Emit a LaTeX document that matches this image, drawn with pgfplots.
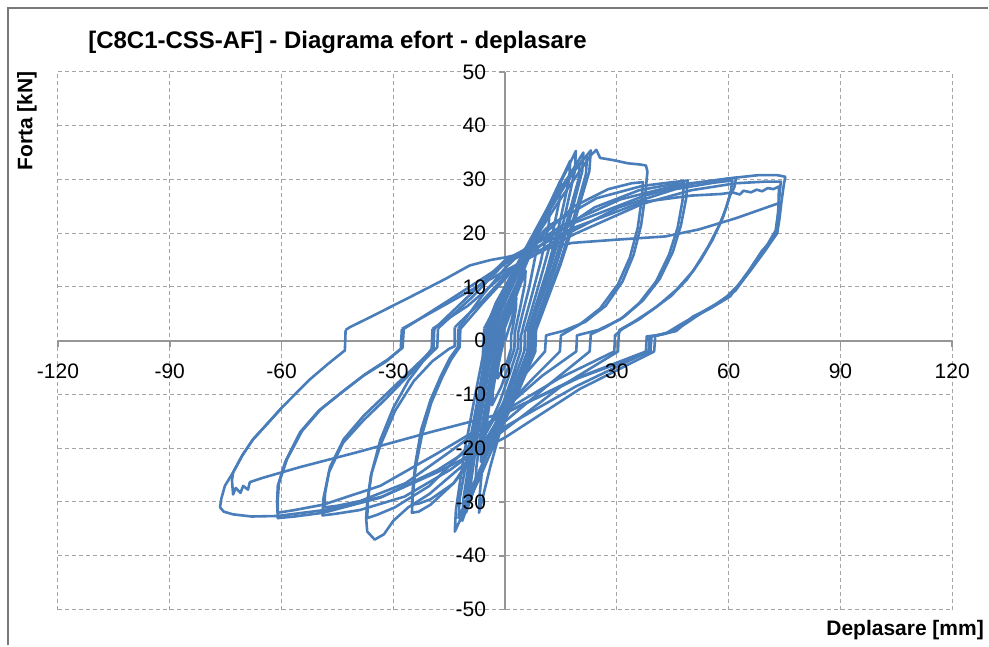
\documentclass[border=0pt]{standalone}
\usepackage{fontspec}
\setmainfont{Liberation Sans}
\usepackage{pgfplots}
\pgfplotsset{compat=1.18}
\definecolor{seriesblue}{RGB}{74,126,187}
\definecolor{gridgray}{RGB}{165,165,165}
\definecolor{axisgray}{RGB}{150,150,150}
\definecolor{framegray}{RGB}{120,120,120}
\pgfplotsset{
  hyst/.style={draw=seriesblue, line width=1.3pt, mark=none, solid, line join=round},
  % same as the standard layers, but tick labels come after the curves
  layers/labelsabove/.define layer set={axis background,axis grid,axis ticks,axis lines,pre main,main,axis tick labels,axis descriptions,axis foreground}{
    grid style={/pgfplots/on layer=axis grid},
    tick style={/pgfplots/on layer=axis ticks},
    axis line style={/pgfplots/on layer=axis lines},
    label style={/pgfplots/on layer=axis descriptions},
    legend style={/pgfplots/on layer=axis descriptions},
    title style={/pgfplots/on layer=axis descriptions},
    colorbar style={/pgfplots/on layer=axis descriptions},
    ticklabel style={/pgfplots/on layer=axis tick labels},
    axis background@ style={/pgfplots/on layer=axis background},
    3d box foreground style={/pgfplots/on layer=axis foreground},
  },
}

\begin{document}
\begin{tikzpicture}
\begin{axis}[
  set layers=labelsabove,
  at={(0pt,0pt)}, anchor=south west,
  scale only axis, width=447.5pt, height=269pt,
  xmin=-120, xmax=120, ymin=-50, ymax=50,
  xtick={-120,-90,...,120}, ytick={-50,-40,...,50},
  axis lines=middle,
  hide obscured x ticks=false, hide obscured y ticks=false,
  axis line style={-, draw=axisgray, line width=0.8pt},
  grid=major,
  major grid style={draw=gridgray, line width=0.5pt, dash pattern=on 2pt off 1.5pt},
  tick style={draw=axisgray, line width=0.8pt},
  tick align=outside, major tick length=3pt,
  ticklabel style={font=\fontsize{10.5}{12}\selectfont, text=black},
  xticklabel style={yshift=-5pt},
  yticklabel style={xshift=-3pt},
  /pgf/number format/assume math mode=true,
  clip=false,
]
% stiff cycles at small drift
\addplot[hyst] coordinates {(0,0) (1.8,4) (3,8) (2.9,6) (2.2,3) (1.6,1) (1.6,-1.5) (0.5,-4) (-2,-7) (-1.9,-5) (-1.2,-2.5) (-0.5,-0.5) (-0.3,2)
 (0.8,4) (2.5,7.5) (5.5,13) (5.3,10.5) (4,6) (2.6,1.5) (2.5,-1.5) (0.8,-5) (-1,-8.5) (-3.5,-12) (-3.3,-9.5) (-2.2,-5) (-1,-1.5) (-0.8,2)
 (0.7,5) (3,9.5) (5.5,14) (8.5,19) (8.2,16) (6.5,10) (4.5,4.5) (3.5,1.5) (3.4,-1.5) (1.3,-6) (-1.5,-11.5) (-5,-17) (-4.7,-14) (-3.3,-8) (-2,-3) (-1.5,-0.8) (-1.4,2.2)
 (0.5,5.5) (3,10) (6.5,16) (9.5,21) (12,25) (11.7,21.5) (9.5,14.5) (7,8) (5,3) (4.3,1) (4.2,-1.8) (1.8,-7) (-1,-12.5) (-4,-18) (-6.5,-22.5) (-6.2,-19) (-4.6,-11.5) (-3,-5) (-2.2,-1) (-2,2.2)
 (0,6) (3,10.5) (7,17.5) (11,24) (15,30) (14.7,26.5) (12.3,18.5) (9.5,11.5) (6.8,5) (5.3,1.5) (5.2,-1.8) (2.3,-7.5) (-1,-13) (-4.5,-20) (-8,-27) (-7.7,-23.5) (-6,-15) (-4,-6.5) (-2.8,-1.5) (-2.6,2.2)};
\addplot[hyst] coordinates {(-2.6,2.2) (-0.5,6.5) (2.5,11) (7,18) (12,25.5) (17.5,33.5) (17.2,30) (14.5,21.5) (11.2,13) (8.2,6.5) (6.2,2) (6,-2) (2.7,-8) (-1,-14) (-5,-21) (-9.5,-30) (-9.2,-26.5) (-7.3,-17.5) (-5,-8) (-3.6,-2) (-3.4,2.3)
 (-1.2,6.5) (2,11) (6.5,17.5) (12,25.5) (16,31) (19,35.3) (18.7,31.5) (15.8,22.5) (12.3,14) (9,7) (6.8,2) (6.6,-2) (3,-8.5) (-1,-14.5) (-5.5,-22) (-10.5,-32) (-10.2,-28.5) (-8.2,-19) (-5.7,-9) (-4.3,-2.5) (-4.1,2.3)
 (-1.8,6.5) (1.8,11.5) (7,18.5) (12.5,25.5) (17,30.5) (21,35) (20.7,31.5) (17.5,23) (13.7,14) (10,7) (7.5,2) (7.3,-2) (3.3,-9) (-1,-15) (-6,-23) (-11.5,-33.5) (-11.2,-29.5) (-9,-19.5) (-6.3,-9) (-4.8,-2.5) (-4.6,2.3)
 (-2.3,6.5) (1.8,12) (7.5,19) (13.5,26) (18.5,31.5) (23,35.4) (22.6,31.5) (19,23) (14.8,14) (11,7) (8.3,2) (8.1,-2) (3.8,-9) (-1,-15.5) (-6.5,-23.5) (-12.5,-33) (-12.2,-29.5) (-9.8,-20) (-7,-9.5) (-5.3,-2.5) (-5.1,2.3)};
\addplot[hyst] coordinates {(-5.1,2.3) (-2.5,7) (1.5,12) (6.5,18.5) (12,25.5) (16.5,30) (20,33) (19.7,30) (16.5,22) (12.8,13.5) (9,6.5) (6.8,2) (6.6,-2) (2.5,-9) (-1,-16) (-4,-23.5) (-7,-32) (-6.8,-28.5) (-5.5,-19) (-4,-9) (-3.2,-2.5) (-3,2.3)
 (-1,7) (2.5,12) (7.5,19) (13,26) (18,31.5) (22,34.5) (21.7,31) (18.5,23) (14.5,14) (10.5,7) (8,2) (7.8,-2) (3.5,-9.5) (-1.5,-17) (-6.5,-25) (-10.5,-31) (-13.5,-35.5) (-13.2,-31.5) (-11,-21) (-8,-10) (-6,-3) (-5.6,2.3)};
% first cycle past the peak force
\addplot[hyst] coordinates {(-5.6,2.3) (-2,7) (2.5,12.5) (8.5,19.5) (14.5,26) (20,31.5) (23,34.5) (24.5,35.5) (25.5,34) (29,33.6) (33,33) (36,32.8) (37.8,32.6) (38.2,31.5) (38,30)
 (37.6,27) (36.5,21.5) (34.5,16) (31.5,11) (27,6.5) (21.5,3.5) (15.5,1.8) (11,1) (10.7,-2)
 (5,-6.5) (0,-11) (-7.5,-20) (-13.8,-26.5) (-20,-30.5) (-23.2,-31.8) (-25,-32)
 (-24.8,-29) (-24,-23.5) (-22.3,-17.5) (-19.8,-11.5) (-17,-7) (-14.5,-3.5) (-12.2,-1.2) (-12,2.2)};
\addplot[hyst] coordinates {(-12,2.2) (-6,7) (0,11.5) (9.2,19) (18.5,25) (27.7,28.2) (34,29.3) (37,29.5)
 (36.7,26.5) (35.6,21) (33.5,15.5) (30.3,10.5) (25.5,6) (20,3) (15,1) (14.7,-2)
 (7.5,-7) (0,-12.5) (-7.5,-21) (-13.8,-26.5) (-20,-29.5) (-23.2,-30.3) (-25,-30.5)
 (-24.8,-27.5) (-24,-22.5) (-22.5,-16.5) (-20,-11) (-17.2,-6.5) (-14.8,-3.2) (-12.7,-1.2) (-12.5,2.3)};
\addplot[hyst] coordinates {(-12.5,2.3) (-6,8.5) (0,13.5) (12,21.5) (24.5,26.5) (36.8,28.8) (45,29.5) (49,29.8)
 (48.6,26.5) (47.2,21.5) (45,16.5) (41.5,11.5) (37,7.5) (32,4.5) (27,2.5) (23,1.2) (22.7,-2)
 (12,-8) (0,-15) (-11,-23) (-20.3,-28.5) (-26,-31) (-30,-33.5) (-32.5,-36) (-35,-37) (-37,-35.5) (-37.3,-33)
 (-37,-30) (-36,-25) (-33.5,-19.5) (-29.5,-13) (-24.5,-7.5) (-19.5,-3.8) (-15,-1.5) (-13.5,-1) (-13.5,2.5)};
\addplot[hyst] coordinates {(-13.5,2.5) (-6,7.5) (0,12) (12,19.2) (24,24.8) (36,28) (44,29) (48,29.3)
 (47.6,26) (46.3,21) (44,16) (40.5,11) (36,7) (31,4) (25,2) (19.3,1) (19.1,-2)
 (10,-6.5) (0,-12.5) (-11,-20.5) (-20.3,-27) (-29.6,-31) (-34.4,-32.4) (-37,-33)
 (-36.8,-29.5) (-35.8,-24.5) (-33.5,-18.5) (-30,-12.5) (-26,-7.5) (-22,-3.8) (-18.2,-1.2) (-18,2.3)};
\addplot[hyst] coordinates {(-18,2.3) (-9,8) (0,14.5) (15.5,21.5) (31,26.3) (46.5,29) (57,29.9) (62,30.3)
 (61.5,28.5) (60.2,26.8) (58.5,23) (55.7,18.8) (52.5,15) (48.7,11.3) (44.5,8.3) (39.6,5.8) (34.5,3.5) (30.7,2) (30.5,1) (30.3,-2)
 (15,-8.5) (0,-16.5) (-14.7,-24) (-27,-29) (-39,-31.5) (-45.5,-32.2) (-49,-32.5)
 (-48.8,-29.5) (-47.3,-24.5) (-43.5,-19) (-38,-14.8) (-32,-10.8) (-26,-6.5) (-21.5,-3.2) (-19.7,-1.5) (-19.5,2.2)};
\addplot[hyst] coordinates {(-19.5,2.2) (-10,6.5) (0,12.5) (15,19.3) (30.5,24.8) (45.7,28.2) (56,29.4) (61,29.8)
 (60.5,27.5) (59.5,25) (57.5,21.5) (54.5,17.5) (50.5,13) (46,9.5) (41,6.5) (36,4) (31.5,2.2) (29.5,1) (29.3,-2)
 (14.5,-7) (0,-13) (-14.5,-20.5) (-26.7,-26.5) (-38.8,-29.8) (-45,-30.7) (-48.5,-31)
 (-48.3,-28.3) (-47,-23.5) (-43.3,-18.3) (-38,-14) (-32,-10) (-26,-6) (-21.5,-3) (-19.2,-1.3) (-19,2.2)};
% largest amplitude cycles
\addplot[hyst] coordinates {(-19,2.2) (-9.5,8.5) (0,15) (18.8,22) (37.5,27) (50,29.2) (60,30.2) (68,30.8) (73,30.8) (75.2,30.5)
 (74.8,29) (74.2,26) (73.6,22.5) (73,20) (71,18.2) (69,16.8) (65.6,13.2) (60.3,8.2) (55,6) (50.4,4.5) (45.9,1.8) (40.3,0.9) (40,-2)
 (20,-9) (0,-18) (-18.3,-24.5) (-33.5,-29.2) (-48.8,-32) (-56.5,-32.7) (-61,-33)
 (-61.2,-30) (-61,-27) (-59,-22.5) (-55,-17) (-50,-13) (-44,-9.7) (-38,-6.5) (-31.8,-3.8) (-28,-1.5) (-27.7,2.2)};
\addplot[hyst] coordinates {(-27.7,2.2) (-14,7.5) (0,13) (18.5,19.8) (37,25.5) (50,28) (62,29.3) (70,29.6) (74,29.6)
 (73.7,27.5) (73.3,24) (72.6,20.5) (70.5,18) (67.5,15) (63.5,11) (58.5,7.5) (53,5.3) (48.5,3.2) (44,1.5) (39.3,0.8) (39,-2)
 (19.5,-7) (0,-13.5) (-18.3,-21) (-33.5,-27) (-48.8,-30.5) (-56.5,-31.5) (-61,-32)
 (-61,-29.5) (-60.7,-26.5) (-58.5,-22) (-54.5,-16.8) (-49.5,-12.8) (-43.5,-9.4) (-37.5,-6.2) (-31.5,-3.5) (-27.5,-1.3) (-27.2,2.2)};
\addplot[hyst] coordinates {(-27.2,2.2) (-14,8) (0,14.3) (18.4,21) (36.8,25.8) (50,27) (58,27.3) (61,27.6) (63,27.2) (64,27.9) (66,27.6) (67.5,28.1) (69,27.8) (70.5,28.4) (72,28.2) (73.5,28.7)
 (73.4,26) (73.2,22.5) (72.8,20) (70,17) (66.5,13.8) (61.8,9.3) (56.5,6.8) (51.5,4.8) (47,3) (43,1.3) (38.8,0.8) (38.5,-2)
 (19,-8.5) (0,-16) (-18,-24) (-33,-29) (-48.5,-31.5) (-61,-32.6) (-68,-32.7) (-73,-32.3) (-75.5,-31.8) (-76.5,-31)
 (-76.2,-29.5) (-75.2,-27) (-73,-24.5) (-70.5,-21.3) (-67.7,-18.4) (-63.5,-15.2) (-59.7,-12.3) (-56,-9.7) (-52.4,-7.2) (-47.5,-4.3) (-43,-1.8) (-42.8,2)};
\addplot[hyst] coordinates {(-42.8,2) (-41.7,2.5) (-35,4.8) (-25,8.3) (-16,11.5) (-9.5,14) (-4,15) (0,15.5) (9,16.8) (18,18.2) (30,18.8) (43,19.4) (52,20.7) (62,22.8) (73.5,25.6)
 (73.3,23) (73,20) (69.5,16.5) (65.8,13) (60.5,8.4) (55.5,6.2) (50.5,4.3) (46,2) (41,1) (38,0.8) (37.8,-2)
 (19,-7) (0,-13.4) (-20,-17) (-40,-20.8) (-55,-23.5) (-65,-25.5) (-68.5,-26.3) (-69,-27.7) (-70.3,-27) (-71,-28.3) (-72.3,-27.4) (-73,-28.6) (-73.3,-26)
 (-73,-24.5) (-70.5,-21.3) (-67.7,-18.4) (-63.5,-15.2) (-60,-12.5)};
\end{axis}
\node[anchor=west, inner sep=0pt, font=\bfseries\fontsize{12}{14}\selectfont] at (15pt,284pt) {[C8C1-CSS-AF] - Diagrama efort - deplasare};
\node[rotate=90, font=\bfseries\fontsize{10.5}{12}\selectfont] at (-15.5pt,244.5pt) {Forta [kN]};
\node[anchor=east, inner sep=0pt, font=\bfseries\fontsize{10.5}{12}\selectfont] at (463.5pt,-10.5pt) {Deplasare [mm]};
% chart area border (top and left edges) and the page extent
\draw[framegray, line width=0.8pt] (-25pt,-18pt) -- (-25pt,301pt) -- (465.5pt,301pt);
\path (-29pt,-18pt) rectangle (465.5pt,305pt);
\end{tikzpicture}
\end{document}
